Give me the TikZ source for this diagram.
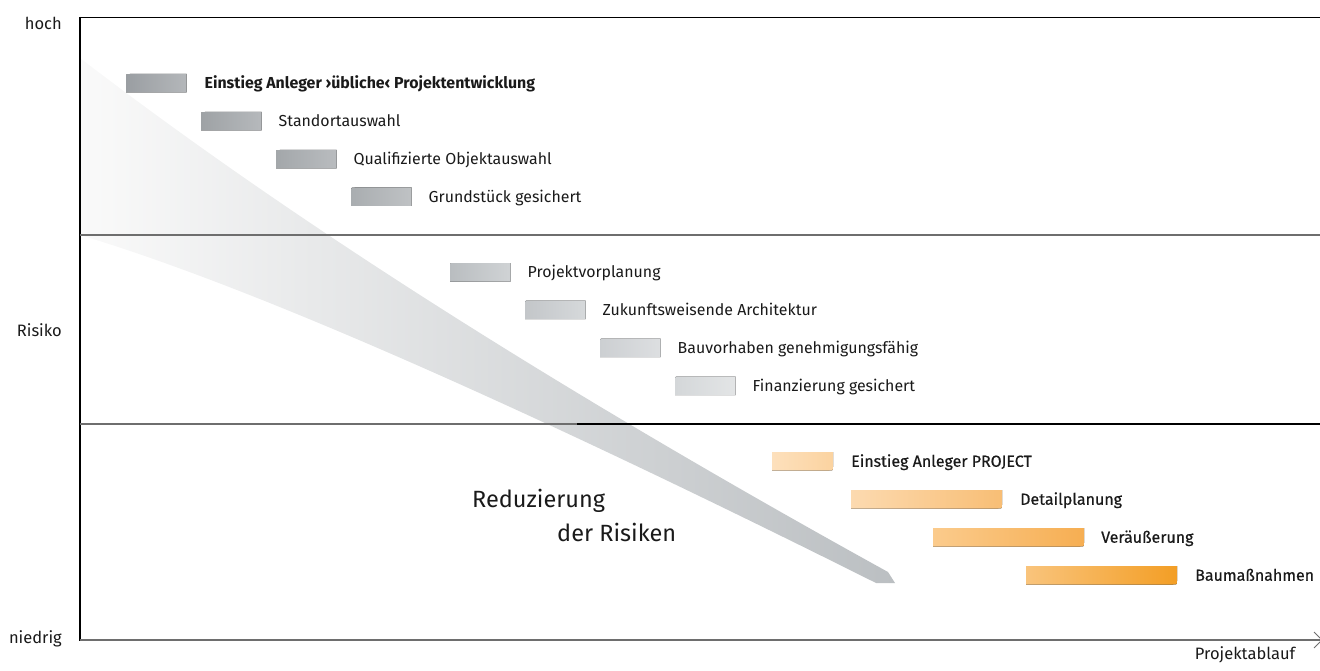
\documentclass[tikz,border=0pt]{standalone}
\usepackage{fontspec}
\setmainfont{Fira Sans}
\newfontfamily\mittel{Fira Sans}[FakeBold=0.5]
\usepackage{tikz}
\usetikzlibrary{%
  positioning%
}
%% colours
\definecolor{txt}{HTML}{1A1A1A}
\definecolor{achse}{HTML}{6E6E6E}
\definecolor{keil}{HTML}{BBBFC2}
\definecolor{keilhell}{HTML}{FAFAFA}
\definecolor{gAl}{HTML}{9A9EA2}\definecolor{gAr}{HTML}{B4B7BA}
\definecolor{gBl}{HTML}{9EA2A5}\definecolor{gBr}{HTML}{B6B9BC}
\definecolor{gCl}{HTML}{A3A7AA}\definecolor{gCr}{HTML}{B9BCBF}
\definecolor{gDl}{HTML}{A9ADB0}\definecolor{gDr}{HTML}{BFC2C4}
\definecolor{gEl}{HTML}{B9BDC0}\definecolor{gEr}{HTML}{D0D3D5}
\definecolor{gFl}{HTML}{C3C6C9}\definecolor{gFr}{HTML}{D6D9DB}
\definecolor{gGl}{HTML}{CCCFD2}\definecolor{gGr}{HTML}{DDDFE1}
\definecolor{gHl}{HTML}{D4D7D9}\definecolor{gHr}{HTML}{E3E5E6}
\definecolor{oAl}{HTML}{FDE0BC}\definecolor{oAr}{HTML}{FBD3A0}
\definecolor{oBl}{HTML}{FCDAB0}\definecolor{oBr}{HTML}{F8BE75}
\definecolor{oCl}{HTML}{FBCB8C}\definecolor{oCr}{HTML}{F6AE52}
\definecolor{oDl}{HTML}{F9C47C}\definecolor{oDr}{HTML}{F39E25}

%% bar with rounded top left corner: name, x, y, left colour, right colour
\newcommand{\graubalken}[5]{%
  \fill[left color=#4, right color=#5] (#2,#3+18.5) -- (#2,#3+4)
  .. controls (#2,#3) .. (#2+4,#3) -- (#2+60.5,#3) -- (#2+60.5,#3+18.5) -- cycle;
  \coordinate (#1) at (#2+60.5,#3+9.25);
}
%% bar with rounded bottom right corner: name, x, y, width, left, right
\newcommand{\orangebalken}[6]{%
  \fill[left color=#5, right color=#6] (#2,#3) -- (#2+#4,#3) -- (#2+#4,#3+14.5)
  .. controls (#2+#4,#3+18.5) .. (#2+#4-4,#3+18.5) -- (#2,#3+18.5) -- cycle;
  \coordinate (#1) at (#2+#4,#3+9.25);
}

\begin{document}
\begin{tikzpicture}[x=1pt,y=-1pt,
  lab/.style={font=\fontsize{15.9}{18}\selectfont, inner sep=0pt,
    text height=11pt, text depth=0pt, text=txt},
  achslab/.style={lab, font=\fontsize{16.5}{18}\selectfont},
  neu/.style={lab, font=\fontsize{16}{18}\mittel},
  gross/.style={font=\fontsize{23.5}{27}\selectfont, inner sep=0pt,
    anchor=base west, text=txt}]

  \useasboundingbox (0,0) rectangle (1320,671);

  %% risk wedge
  \shade[left color=keilhell, right color=keil]
  (80,58) .. controls (291,220) and (560,391) .. (888,572)
  -- (895,583) -- (876,583)
  .. controls (512,401) and (247,285) .. (80,235) -- cycle;

  %% frame and bands
  \draw[black, line width=1.3] (80,17) -- (80,641);
  \draw[black, line width=0.9] (80,17) -- (1320,17);
  \draw[achse, line width=1.3] (80,235) -- (1320,235);
  \draw[achse, line width=1.3] (80,424) -- (577,424);
  \draw[black, line width=1.3] (577,424) -- (1320,424);
  \draw[achse, line width=2] (80,640) -- (1320,640);
  \draw[achse, line width=1] (1314,632) -- (1322,640) -- (1314,648);

  %% axis labels
  \node[achslab, anchor=east] (hoch) at (62,24) {hoch};
  \node[achslab, anchor=east] (risiko) at (62,330.5) {Risiko};
  \node[achslab, anchor=east] (niedrig) at (62,637.5) {niedrig};
  \node[achslab] (ablauf) at (1245,654) {Projektablauf};

  %% upper band
  \graubalken{b1}{126}{74}{gAl}{gAr}
  \graubalken{b2}{201}{112}{gBl}{gBr}
  \graubalken{b3}{276}{150}{gCl}{gCr}
  \graubalken{b4}{351}{187.5}{gDl}{gDr}
  \node[lab, anchor=west, right=18pt of b1, font=\fontsize{15.9}{18}\selectfont\bfseries]
    (einstieg) {Einstieg Anleger ›übliche‹ Projektentwicklung};
  \node[lab, anchor=west, right=17pt of b2] (standort) {Standortauswahl};
  \node[lab, anchor=west, right=17pt of b3] (objekt) {Qualifizierte Objektauswahl};
  \node[lab, anchor=west, right=17pt of b4] (grundstueck) {Grundstück gesichert};

  %% middle band
  \graubalken{b5}{450}{263}{gEl}{gEr}
  \graubalken{b6}{525}{300.5}{gFl}{gFr}
  \graubalken{b7}{600}{338.5}{gGl}{gGr}
  \graubalken{b8}{675}{376.5}{gHl}{gHr}
  \node[lab, anchor=west, right=17pt of b5] (vorplanung) {Projektvorplanung};
  \node[lab, anchor=west, right=17pt of b6] (architektur) {Zukunftsweisende Architektur};
  \node[lab, anchor=west, right=17pt of b7] (genehmigung) {Bauvorhaben genehmigungsfähig};
  \node[lab, anchor=west, right=17pt of b8] (finanzierung) {Finanzierung gesichert};

  %% lower band
  \orangebalken{b9}{772}{452}{61}{oAl}{oAr}
  \orangebalken{b10}{851}{490}{151}{oBl}{oBr}
  \orangebalken{b11}{933}{528}{151}{oCl}{oCr}
  \orangebalken{b12}{1026}{566}{151}{oDl}{oDr}
  \node[neu, anchor=west, right=18pt of b9] (project) {Einstieg Anleger PROJECT};
  \node[neu, anchor=west, right=18pt of b10] (detail) {Detailplanung};
  \node[neu, anchor=west, right=17pt of b11] (verkauf) {Veräußerung};
  \node[neu, anchor=west, right=18pt of b12] (bau) {Baumaßnahmen};

  \node[gross] (reduzierung) at (472,507.5) {Reduzierung};
  \node[gross] (risiken) at (557,541.5) {der Risiken};

\end{tikzpicture}
\end{document}
